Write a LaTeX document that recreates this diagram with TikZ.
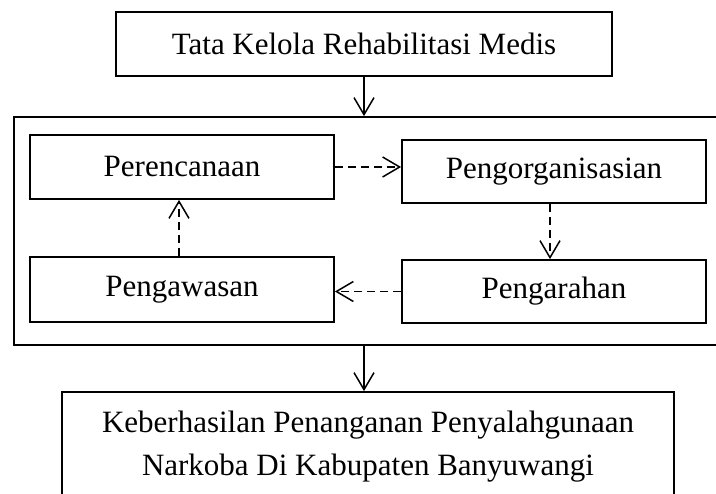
\documentclass[tikz,border=0pt]{standalone}
\usepackage{fontspec}
\setmainfont{Liberation Serif}
\usetikzlibrary{arrows.meta}

\begin{document}
\begin{tikzpicture}[x=1pt, y=-1pt,
    every node/.style={font=\fontsize{31}{43}\selectfont},
    blok/.style={draw, line width=1.8pt, inner sep=0pt},
    panah/.style={line width=1.5pt, -{Straight Barb[length=17pt, width=20pt]}},
    putus/.style={panah, dash pattern=on 8pt off 5pt}]

\clip (0,0) rectangle (716,494);

% Top box
\node (tata) at (364,44) [blok, minimum width=496pt, minimum height=64pt] {Tata Kelola Rehabilitasi Medis};

% Frame round the four steps
\node (fungsi) at (372,231) [blok, minimum width=716pt, minimum height=228pt] {};

% Steps
\node (rencana) at (182,167) [blok, minimum width=304pt, minimum height=64pt] {Perencanaan};
\node (organisasi) at (554,171.5) [blok, minimum width=304pt, minimum height=63pt] {Pengorganisasian};
\node (awas) at (182,289.5) [blok, minimum width=304pt, minimum height=65pt] {Pengawasan};
\node (arah) at (554,291.5) [blok, minimum width=304pt, minimum height=63pt] {Pengarahan};

% Cycle
\draw [putus] (rencana.east) -- (rencana.east -| organisasi.west);
\draw [putus] ([xshift=-4pt]organisasi.south) -- ([xshift=-4pt]organisasi.south |- arah.north);
\draw [putus] (arah.west) -- (arah.west -| awas.east);
\draw [putus] ([xshift=-3pt]awas.north) -- ([xshift=-3pt]awas.north |- rencana.south);

% Result
\node (hasil) at (368,447) [blok, minimum width=612pt, minimum height=110pt, align=center] {Keberhasilan Penanganan Penyalahgunaan\\Narkoba Di Kabupaten Banyuwangi};

\draw [panah] (tata.south) -- (tata.south |- fungsi.north);
\draw [panah] (fungsi.south -| tata.south) -- (hasil.north -| tata.south);

\end{tikzpicture}
\end{document}
